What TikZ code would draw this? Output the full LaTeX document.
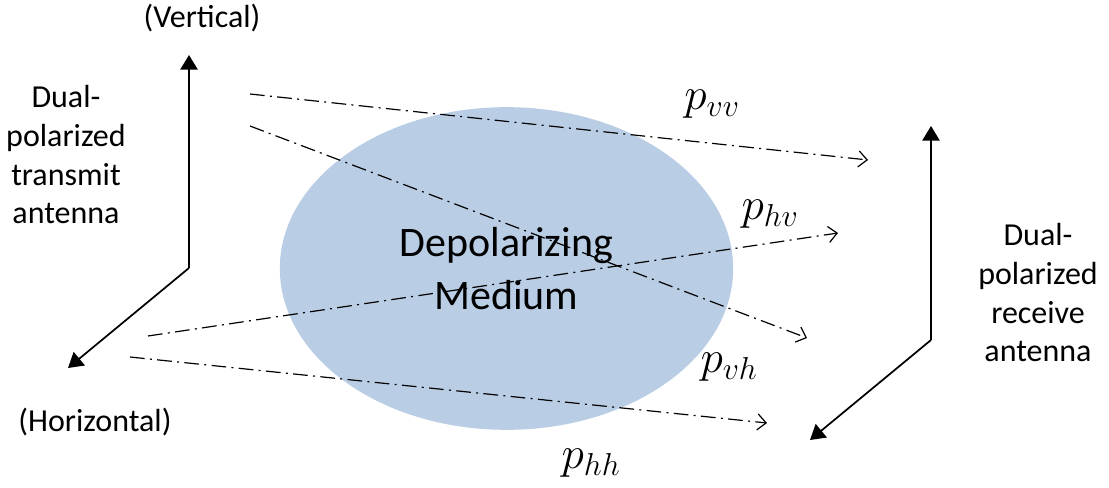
\RequirePackage{fix-cm}
\documentclass[tikz,border=0pt]{standalone}
\usepackage{fontspec}
\setmainfont{Carlito}
\usepackage{tikz}
\usetikzlibrary{positioning,arrows.meta,shapes.geometric}
\definecolor{mediumblue}{HTML}{B9CDE5}
\tikzset{
  antline/.style={line width=1.3pt, -{Triangle[width=13pt,length=11pt]}},
  ray/.style={line width=0.9pt, dash pattern=on 11pt off 4pt on 1.5pt off 4pt,
              -{Straight Barb[length=6.5pt,width=12pt]}},
  lbl/.style={font=\fontsize{24}{29}\selectfont, align=center, inner sep=0pt},
  plbl/.style={font=\fontsize{34}{40}\selectfont, inner sep=0pt}
}

\begin{document}
\begin{tikzpicture}[x=0.75pt, y=-0.75pt]
            \useasboundingbox (0,0) rectangle (1109,488);
            % Depolarizing medium
            \node[ellipse, fill=mediumblue, minimum width=340pt, minimum height=242pt,
                  inner sep=0pt, align=center, font=\fontsize{31.5}{40}\selectfont]
                  (med) at (506.5,268.5) {Depolarizing\\Medium};
            % Transmit antenna
            \coordinate (txo) at (189,268);
            \coordinate (txv) at (189,55);
            \coordinate (txh) at (68,368);
            \draw[antline] (txo) -- (txv);
            \draw[antline] (txo) -- (txh);
            % Receive antenna
            \coordinate (rxo) at (931,340);
            \coordinate (rxv) at (931,126);
            \coordinate (rxh) at (810,440);
            \draw[antline] (rxo) -- (rxv);
            \draw[antline] (rxo) -- (rxh);
            % Start and end points of the paths
            \coordinate (vvs) at (250,94);
            \coordinate (vve) at (868,160);
            \coordinate (vhs) at (250,126);
            \coordinate (vhe) at (807,338);
            \coordinate (hvs) at (148,336);
            \coordinate (hve) at (838,233);
            \coordinate (hhs) at (130,357);
            \coordinate (hhe) at (767,423);
            % Paths through the medium
            \draw[ray] (vvs) -- (vve);
            \draw[ray] (vhs) -- (vhe);
            \draw[ray] (hvs) -- (hve);
            \draw[ray] (hhs) -- (hhe);
            % Antenna labels
            \node[lbl] (vert) at (202,18) {(Vertical)};
            \node[lbl] (horz) at (95,422) {(Horizontal)};
            \node[lbl] (txlbl) at (66,155) {Dual-\\polarized\\transmit\\antenna};
            \node[lbl] (rxlbl) at (1038,293) {Dual-\\polarized\\receive\\antenna};
            % Path labels
            \node[plbl] (pvv) at (712,104) {$p_{vv}$};
            \node[plbl] (phv) at (770,214) {$p_{hv}$};
            \node[plbl] (pvh) at (729,367) {$p_{vh}$};
            \node[plbl] (phh) at (591,463) {$p_{hh}$};
          \end{tikzpicture}
\end{document}
